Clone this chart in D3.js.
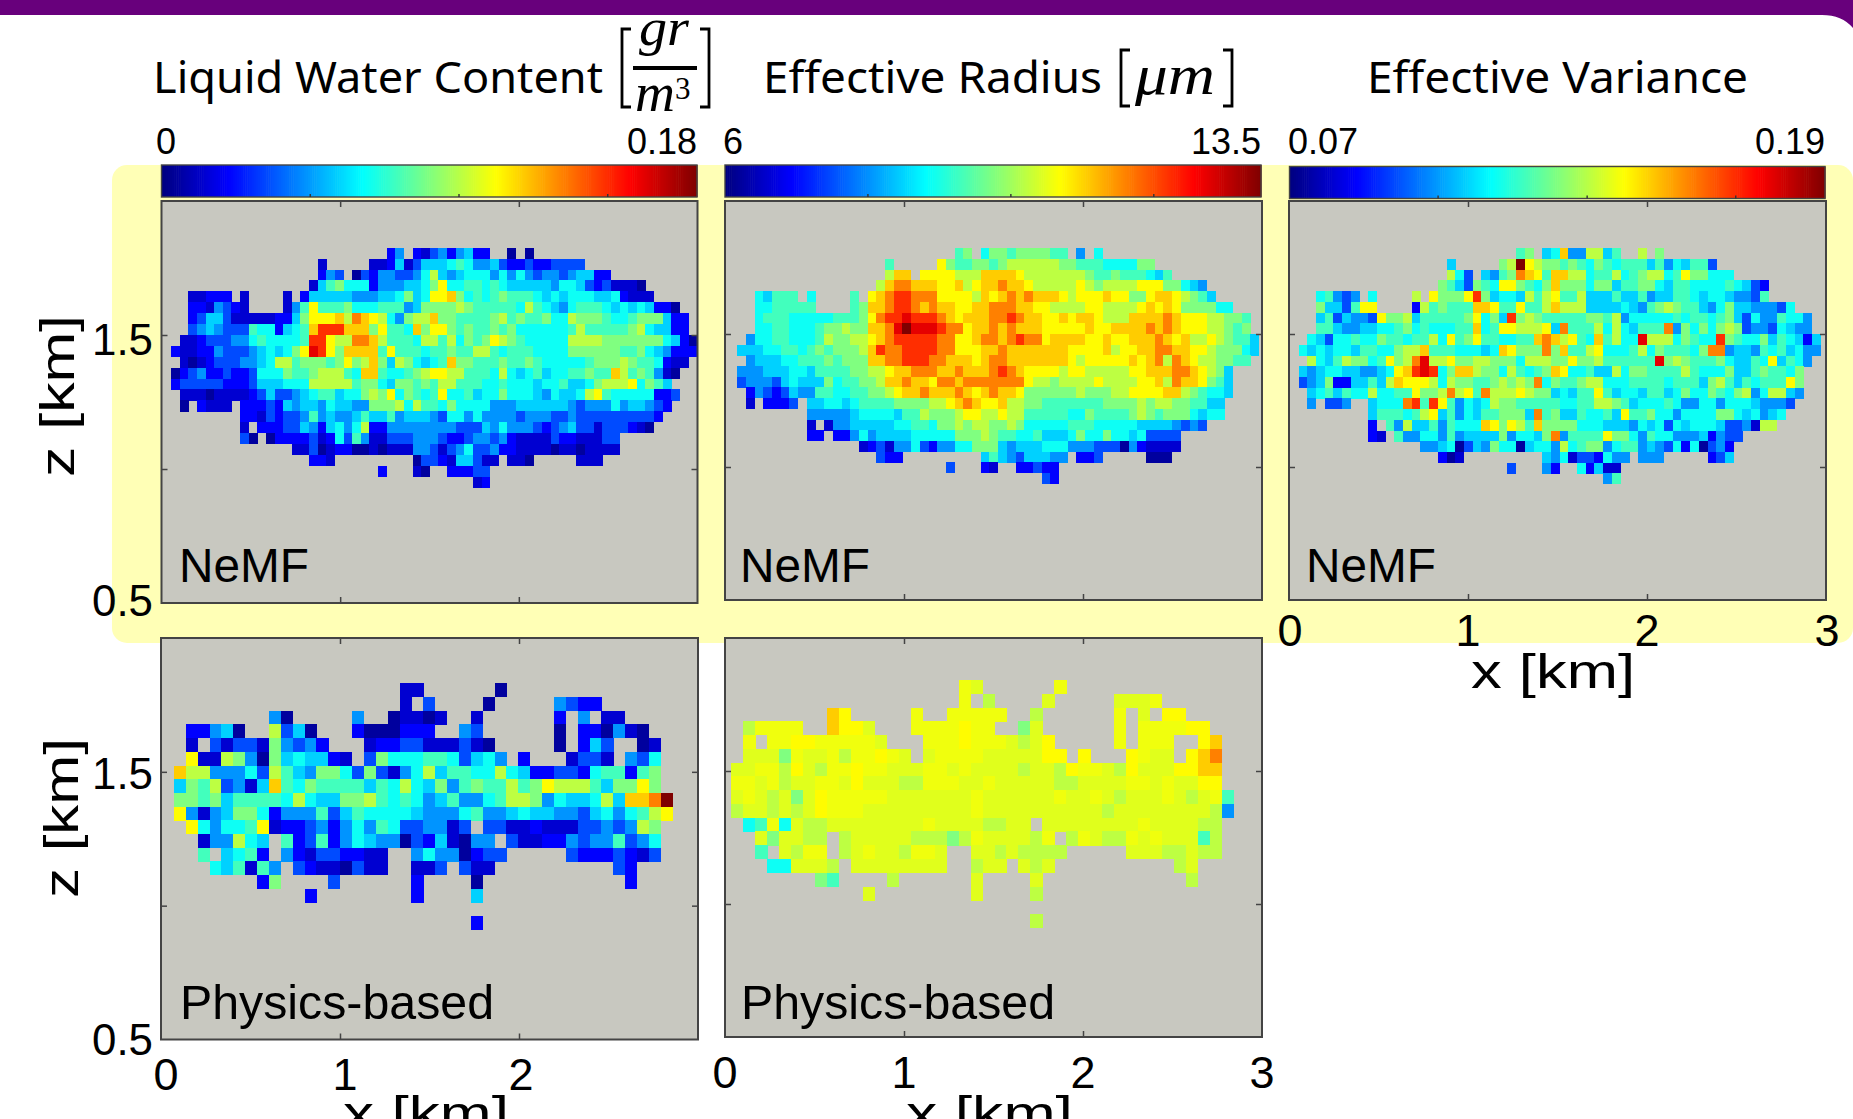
<!DOCTYPE html>
<html><head><meta charset="utf-8">
<script src="https://cdn.jsdelivr.net/npm/d3@7"></script>
<style>html,body{margin:0;padding:0;background:#fff;overflow:hidden}svg{display:block}</style>
</head><body><svg id="c" width="1853" height="1119"><defs><filter id="soft" x="-2%" y="-2%" width="104%" height="104%"><feGaussianBlur stdDeviation="0.6"/></filter></defs></svg>
<script>
// colour level of each character, as fraction of the colour range
const levelT={"0":.03,"1":.08,"2":.13,"3":.2,"4":.27,"5":.33,"6":.385,"7":.44,"8":.5,"x":.53,"9":.56,"y":.595,"z":.61,"a":.628,"b":.675,"c":.75,"d":.83,"e":.9,"f":1};
const lwcRange=[0,0.18], reffRange=[6,13.5], veffRange=[0.07,0.19];
const lwcTicks=[0.05,0.1,0.15], reffTicks=[8,10,12], veffTicks=[0.1033,0.1367,0.17];
const xTickValues=[1,2], zTickValues=[1,1.5];

const lwcNemf=[
[25,"24.213424522..0.0"],
[17,"1.....1125135556764453223223333"],
[17,"243.032443346954566646464344345522"],
[16,"157866624445568a66776765555546653231110"],
[2,"11222.1....1.2"+"5555544455"+"6856aab867"+"6787776565"+"6665562111"],
[2,"2214321...."+"147a777866"+"6777458888"+"9877777697"+"654677765"+"6565220"],
[2,"2355311111"+"2258aaab9c"+"ba964899b8"+"8777789787"+"7866988876"+"67888522"],
[2,"3454333766"+"2567bdddbb"+"b8a776b8aa"+"8787787866"+"6666797777"+"78965522"],
[1,"1123334467"+"66667dda99"+"ccb9777699"+"796878a987"+"6666699998"+"8888886520"],
[0,"2112243334"+"56568aeda8"+"bbbb7a7776"+"7787799767"+"7766668888"+"88778654222"],
[1,"1012333445"+"699788878a"+"89b8598656"+"7b88777877"+"8766666788"+"898776211"],
[0,"0234223223"+"6668778999"+"76bb766789"+"aa99777696"+"5675667787"+"7b9787410"],
[0,"2333332223"+"5556669999"+"9788658878"+"7997776676"+"6656675568"+"999a6875"],
[1,"1110111123"+"5334567756"+"6898a68767"+"a667566866"+"65465569a7"+"66666223"],
[1,"0.2111."+"2223254554"+"6554488896"+"9776866664"+"4455555543"+"4446455432"],
[8,"2213233474"+"5445755745"+"5543664644"+"4434443343"+"333333332"],
[8,"1.22233542"+"5646922444"+"4444433354"+"6444323453"+"31333210"],
[8,"30.0222231"+"2637411333"+"4443223443"+"4211113221"+"1133"],
[14,"1130122001"+"0111443134"+"6334221111"+"01101111"],
[16,"221"+"........."+"0332155311"+".110"+"....."+"111"],
[24,"2...10..22233"],
[35,"12"]];

const reffNemf=[
[25,"78.6887888877.4.6"],
[17,"7.....a877887899"+"9999887776"+"66688"],
[17,"9bb.aaaa999bbbba9999999"+"8778777657"],
[16,"9bccbbbaab"+"9abbcbba99"+"999a989999"+"aaa88654"],
[2,"65777.6....7."+"abcddcccaa"+"aa9babcbcb"+"bba9aaabaa"+"88abba9875"],
[2,"6677777...."+"78bbcddcbc"+"bbaabbcccb"+"baa9999aa9"+"999ababa88"+"8866"],
[2,"6777666667"+"778acddedd"+"dcbabbbccd"+"cbbaababba"+"999bbbbcba"+"aa99887"],
[2,"6677666788"+"988bbcefee"+"edccabbcbc"+"bbbaaaaaba"+"abbbbcbcba"+"aa99878"],
[1,"4667766679"+"8899abcddd"+"ddccaabccb"+"cdccabbbba"+"abaabbbcba"+"b99a98775"],
[0,"5556677678"+"78889bdccd"+"dddccaaabb"+"cbbbbbbbaa"+"aab9aabbcc"+"bbaa988865"],
[1,"4555667778"+"7888bbccdd"+"dccbbbabcc"+"bbbbbbba9a"+"aaaababc9c"+"ba998877"],
[0,"4445556657"+"7778899abb"+"cccbbcbbbc"+"dcbaaaa9aa"+"99999aabbb"+"ccba985"],
[0,"3444356555"+"8677889bbc"+"bbaccbcccc"+"ccca998999"+"9a9999aab9"+"cbba875"],
[1,"2432354477"+"6677889abb"+"cbbbcbabcb"+"ba88888898"+"8899aaaabb"+"987665"],
[1,"1.2223."+"5566567777"+"888899abcb"+"aab9988777"+"7777888898"+"99887755"],
[8,"4444456666"+"57798889aa"+"99a9977777"+"6687777898"+"78886566"],
[8,"1.14455555"+"6677688989"+"9889866666"+"7776666655"+"554343"],
[8,"22.2246455"+"5566666888"+"9877667555"+"6866866563"+"333"],
[14,"1231446324"+"4668885455"+"5666444333"+"0421111"],
[16,"322"+"........."+"5754355544"+".223"+"....."+"000"],
[24,"3...21..22322"],
[35,"32"]];

const veffNemf=[
[25,"78.56b449957..9.8"],
[17,"5.....89fa988787"+"6876777574"+"65773"],
[17,"963.5478cb"+"a7bb996779"+"6789967a88"+"666"],
[16,"8753876aa8"+"768b888688"+"5778865776"+"66676532"],
[2,"67434.6....9."+"a888ad8566"+"5979a77955"+"5755745577"+"656654437"],
[2,"85537aa...."+"2978777bba"+"77a779b999"+"5555654789"+"8775468554"+"4436"],
[2,"5735443a88"+"95777778a6"+"85d8987777"+"7887946666"+"6767767853"+"6447664"],
[2,"7754455667"+"86766677b6"+"7aa999a5c7"+"7796965777"+"c486868983"+"4436544"],
[1,"6536676687"+"767796a78a"+"776677bcb9"+"a76b7966e9"+"9968766d87"+"668576525"],
[0,"6565665776"+"6899b77766"+"656ba888c8"+"b779a66679"+"6877768cc4"+"5547675644"],
[1,"965798867a"+"89ce99a889"+"9888699988"+"a889777777"+"e898777865"+"576a5764"],
[0,"5456655445"+"6abded68bb"+"988697678b"+"a667559688"+"7777976668"+"55787768"],
[0,"3458225575"+"9baaa96988"+"7789898c68"+"7789966677"+"7767775897"+"576777a8"],
[1,"5675766966"+"77a889c9a7"+"c999a98856"+"577a756657"+"7568668768"+"9469954"],
[1,"4.334.."+"5666cd7da7"+"4656988777"+"7766779987"+"5666764466"+"466654443"],
[8,"5777679a57"+"465778885c"+"785576675a"+"7786646666"+"88656456"],
[8,"2.74955747"+"666ba8a97b"+"8888666555"+"4656365666"+"5334199"],
[8,"21.7446647"+"4555584665"+"8c47777a88"+"6476644452"+"433"],
[14,"4456035486"+"6056649678"+"8467745436"+"260342"],
[16,"201"+"........."+"5461332644"+".444"+"....."+"235"],
[24,"3...42..62511"],
[35,"47"]];

const lwcPhys=[
[19,"11......0"],
[19,"1.3....0.....4322"],
[8,"40.....4..01101..1......2.4.11"],
[1,"22450..9350...2000222..43......0.220410"],
[1,"1.3133184342..."+"12233111310"+"....."+"0.253..01"],
[1,"a119840856"+"5521.38666"+"7763564.2."+"..1331.436"],
[0,"b994446397"+"5488638314"+"6957766965"+"22332677278"],
[0,"58793415b7"+"6877775769"+"6584787797"+"8a9997588a8"],
[0,"8878577776"+"9655889767"+"6457446799"+"84655695bbcf"],
[0,"a414588624"+"4473576666"+"5444674456"+"55443564679a"],
[1,"a64667a122"+"3424647633"+"4413.33112"+"1113343498"],
[2,"144965.723"+"7246544032"+"51044.3112"+"243447346"],
[2,"7.5672.421"+"332211..46"+"440233....."+"32223213"],
[3,"657174.321"+"10311..113"+".311"+".........."+"32"],
[7,"28....3......2....0............2"],
[11,"2........2....5"],
[0,""],
[25,"2"]];

const reffPhys=[
[19,"zy......z"],
[19,"z.9....y.....yyyz"],
[8,"ba.....z..zzzzz..9......z.y.aa"],
[1,"9zzzz..baay...zzzzazz..8y......z.zzzzaa"],
[1,"z.zzaazzzzzy..."+"zzzazzzy9ya"+"....."+"z.zzz..ab"],
[1,"yyy8zyyz9z"+"zazy.yzzzz"+"yyyyyaa.a."+"..azyy.abc"],
[0,"yyzz9ay9zz"+"azzyyyzzyz"+"yyyy9yy9az"+"zy9ayyyaabb"],
[0,"zzyz9yyzzy"+"ayyy99zzzy"+"yzyyyyy99y"+"yyyzzyzyyaa"],
[0,"yzy9y8yazz"+"zzzyyyyyyy"+"zyyyyyyzyy"+"zy9yyyzy9yz7"],
[0,"9yy9y9yazz"+"zyyyyyyyyy"+"zyyyyyyyyy"+"y9yyyyyyyy94"],
[1,"67z6y99yyy"+"yyyyyzyyyy"+"99yy.yyyyy"+"yyyzyyyy99"],
[2,"y8yy99.9yy"+"yyy99989zy"+"yyy9z.9zy9"+"9zyzyyy79"],
[2,"7.y9zz.9yz"+"yy9zzy..yy"+"9y9999....."+"yyy99y99"],
[3,"66yyy9.yyy"+"yyyyy..9yy"+".y9y"+".........."+"9y"],
[7,"87....9......y....y............9"],
[11,"y........y....9"],
[0,""],
[25,"9"]];

const svg=d3.select("#c");
const jet=d3.scaleLinear().domain([0,.125,.375,.625,.875,1])
  .range(["#00007f","#0000ff","#00ffff","#ffff00","#ff0000","#7f0000"]).clamp(true);
const sans="'Liberation Sans',Arial,sans-serif", titleFont="'Noto Sans',sans-serif", mathFont="'Liberation Serif',serif";

// page furniture
svg.append("path").attr("d","M0,0H1853V28Q1842,15 1822,15H0Z").attr("fill","#68007c");
svg.append("rect").attr("x",112).attr("y",165).attr("width",1741).attr("height",478).attr("rx",15).attr("fill","#ffffb6");

function txt(x,y,s,size,o={}){
  const t=svg.append("text").attr("x",x).attr("y",y).text(s)
    .attr("font-size",size).attr("font-family",o.font||sans).attr("text-anchor",o.anchor||"start").attr("fill","#000");
  if(o.italic)t.attr("font-style","italic");
  if(o.len)t.attr("textLength",o.len).attr("lengthAdjust","spacingAndGlyphs");
  if(o.rot)t.attr("transform",`rotate(-90 ${x} ${y})`);
  return t;
}
function bracket(x,y0,y1,dir){
  svg.append("path").attr("d",`M${x+dir*9},${y0}H${x}V${y1}H${x+dir*9}`).attr("fill","none").attr("stroke","#000").attr("stroke-width",2.8);
}

// titles
txt(153,93,"Liquid Water Content",43,{font:titleFont,len:450});
bracket(622,29,107,1); bracket(709,29,107,-1);
txt(639,45,"gr",52,{font:mathFont,italic:true,len:50});
svg.append("rect").attr("x",633).attr("y",66).attr("width",64).attr("height",4).attr("fill","#000");
txt(635,111,"m",54,{font:mathFont,italic:true,len:40});
txt(675,99,"3",31,{font:mathFont});
txt(763,93,"Effective Radius",43,{font:titleFont,len:339});
bracket(1121,50,106,1); bracket(1232,50,106,-1);
txt(1135,94,"μm",56,{font:mathFont,italic:true,len:80});
txt(1367,93,"Effective Variance",43,{font:titleFont,len:381});

// colour bars
const bars=[
 {x:[161.5,697],y:[165,197],range:lwcRange,ticks:lwcTicks,labels:["0","0.18"],lx:[156,697]},
 {x:[725,1261],y:[165,197],range:reffRange,ticks:reffTicks,labels:["6","13.5"],lx:[723,1261]},
 {x:[1289.5,1825],y:[166.5,198.5],range:veffRange,ticks:veffTicks,labels:["0.07","0.19"],lx:[1288,1825]}];
bars.forEach(b=>{
  const sc=d3.scaleLinear().domain(b.range).range(b.x);
  const steps=d3.range(0,256).map(i=>i/256);
  svg.append("g").selectAll("rect").data(steps).join("rect")
    .attr("x",t=>sc(b.range[0]+t*(b.range[1]-b.range[0])))
    .attr("y",b.y[0]).attr("width",(b.x[1]-b.x[0])/256+.6).attr("height",b.y[1]-b.y[0])
    .attr("fill",t=>jet(t+.5/256));
  svg.append("rect").attr("x",b.x[0]).attr("y",b.y[0]).attr("width",b.x[1]-b.x[0]).attr("height",b.y[1]-b.y[0])
    .attr("fill","none").attr("stroke","#444").attr("stroke-width",1.4);
  svg.append("g").selectAll("line").data(b.ticks).join("line")
    .attr("x1",sc).attr("x2",sc).attr("y1",b.y[1]).attr("y2",b.y[1]-3).attr("stroke","#333").attr("stroke-width",1.4);
  txt(b.lx[0],154,b.labels[0],36);
  txt(b.lx[1],154,b.labels[1],36,{anchor:"end"});
});

// panels
const panels=[
 {data:lwcNemf,range:lwcRange,f:[161.5,697.5,201,603],cx:[171.07,8.625],cy:[247.7,10.9],cols:61,label:"NeMF",lx:179,ly:582},
 {data:reffNemf,range:reffRange,f:[725,1262,201,600],cx:[737.1,8.70],cy:[248.3,10.7],cols:61,label:"NeMF",lx:740,ly:582},
 {data:veffNemf,range:veffRange,f:[1289,1826,201,600],cx:[1298.6,8.70],cy:[248.3,10.72],cols:61,label:"NeMF",lx:1306,ly:582},
 {data:lwcPhys,range:lwcRange,f:[161,698,638,1039.5],cx:[173.9,11.875],cy:[683.3,13.7],cols:42,label:"Physics-based",lx:180,ly:1019},
 {data:reffPhys,range:reffRange,f:[725,1262,638,1037],cx:[731.4,11.96],cy:[680,13.77],cols:42,label:"Physics-based",lx:741,ly:1019}];
panels.forEach(p=>{
  const [l,r,t,b]=p.f;
  svg.append("rect").attr("x",l).attr("y",t).attr("width",r-l).attr("height",b-t).attr("fill","#c8c8c0");
  const col=d3.scaleLinear().domain([0,p.cols]).range([p.cx[0],p.cx[0]+p.cols*p.cx[1]]);
  const row=d3.scaleLinear().domain([0,p.data.length]).range([p.cy[0],p.cy[0]+p.data.length*p.cy[1]]);
  const val=d3.scaleLinear().domain(p.range).range([0,1]);
  const cells=[];
  p.data.forEach((rw,ri)=>{
    [...rw[1]].forEach((ch,k)=>{
      if(ch===".")return;
      cells.push({c:rw[0]+k,r:ri,v:p.range[0]+levelT[ch]*(p.range[1]-p.range[0])});
    });
  });
  svg.append("g").attr("filter","url(#soft)").attr("shape-rendering","crispEdges").selectAll("rect").data(cells).join("rect")
    .attr("x",d=>col(d.c)).attr("y",d=>row(d.r))
    .attr("width",p.cx[1]+.3).attr("height",p.cy[1]+.3)
    .attr("fill",d=>jet(val(d.v)));
  const x=d3.scaleLinear().domain([0,3]).range([l,r]);
  const z=d3.scaleLinear().domain([0.5,2]).range([b,t]);
  const style=g=>{g.select(".domain").remove();g.selectAll("line").attr("stroke","#444").attr("stroke-width",1.5);g.selectAll("text").remove();};
  svg.append("g").attr("transform",`translate(0,${b})`).call(d3.axisBottom(x).tickValues(xTickValues).tickSize(-6).tickFormat("")).call(style);
  svg.append("g").attr("transform",`translate(0,${t})`).call(d3.axisTop(x).tickValues(xTickValues).tickSize(-6).tickFormat("")).call(style);
  svg.append("g").attr("transform",`translate(${l},0)`).call(d3.axisLeft(z).tickValues(zTickValues).tickSize(-6).tickFormat("")).call(style);
  svg.append("g").attr("transform",`translate(${r},0)`).call(d3.axisRight(z).tickValues(zTickValues).tickSize(-6).tickFormat("")).call(style);
  svg.append("rect").attr("x",l).attr("y",t).attr("width",r-l).attr("height",b-t).attr("fill","none").attr("stroke","#444").attr("stroke-width",2);
  txt(p.lx,p.ly,p.label,48,{len:p.label==="NeMF"?130:314});
  p.xs=x; p.zs=z;
});

// axis numbers and titles
const num=45;
function xNums(p,vals,dx,y){vals.forEach((v,i)=>txt(p.xs(v)+dx[i],y,String(v),num,{anchor:"middle"}));}
xNums(panels[2],[0,1,2,3],[1,0,0,1],646);
xNums(panels[3],[0,1,2],[5,5,2],1090);
xNums(panels[4],[0,1,2,3],[0,0,0,0],1088);
txt(153,355,"1.5",45,{anchor:"end",len:61}); txt(153,616,"0.5",45,{anchor:"end",len:61});
txt(153,789,"1.5",45,{anchor:"end",len:61}); txt(153,1055,"0.5",45,{anchor:"end",len:61});
txt(1471,688,"x [km]",49,{len:164});
txt(343,1130,"x [km]",49,{len:166});
txt(906,1130,"x [km]",49,{len:167});
txt(74,477,"z [km]",49,{rot:true,len:162});
txt(78,898,"z [km]",49,{rot:true,len:160});
</script></body></html>
